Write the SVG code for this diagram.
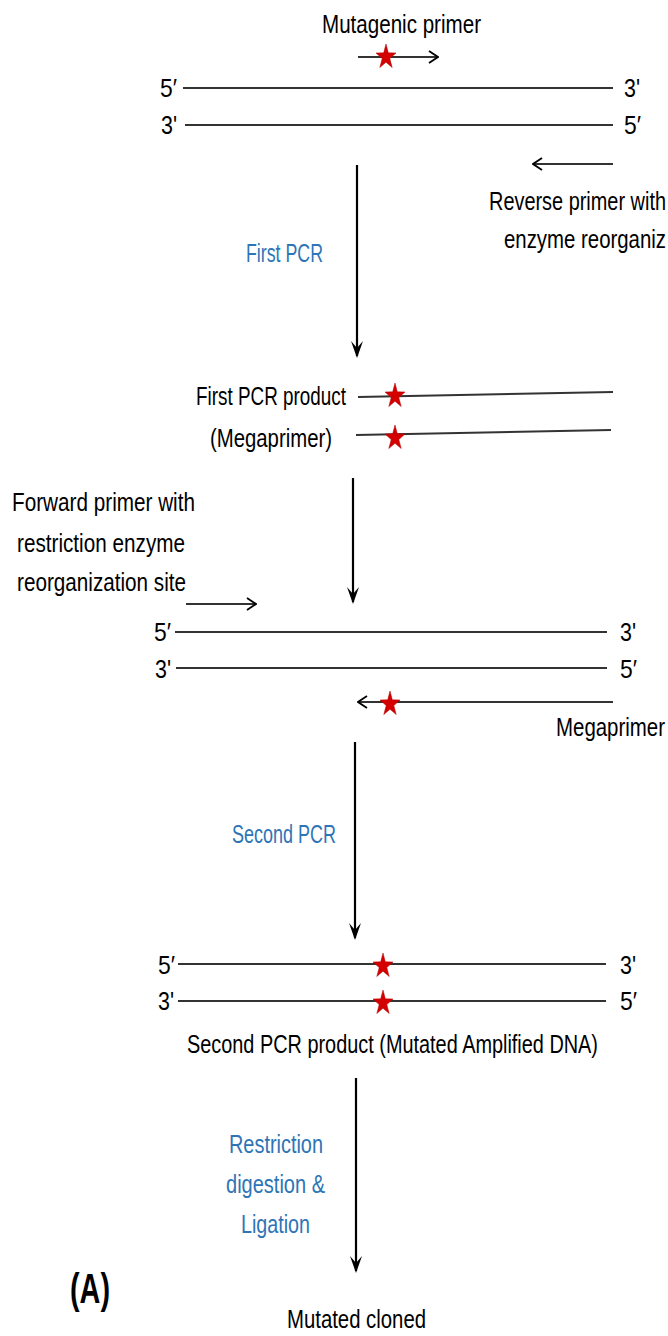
<svg xmlns="http://www.w3.org/2000/svg" width="668" height="1336" viewBox="0 0 668 1336">
<style>
.t{font-family:"Liberation Sans",Arial,sans-serif;font-size:26px;fill:#000;}
.b{fill:#2E75B6;}
.s{stroke:#333;stroke-width:2;fill:none;}
.v{stroke:#000;stroke-width:2.2;fill:none;}
.star{fill:#D40000;stroke:#B00000;stroke-width:0.5;}
</style>
<defs>
<marker id="open" viewBox="0 0 12 14" refX="11" refY="7" markerWidth="12" markerHeight="14" markerUnits="userSpaceOnUse" orient="auto">
<polyline points="2,1 11,7 2,13" fill="none" stroke="#000" stroke-width="1.8"/>
</marker>
<path id="star" d="M0,-13 L2.3,-4.2 L10,-4 L3.8,1.6 L6.2,10.5 L0,5.2 L-6.2,10.5 L-3.8,1.6 L-10,-4 L-2.3,-4.2 Z"/>
</defs>

<g id="connectors">
<line class="v" x1="357" y1="165" x2="357" y2="356"/>
<polygon points="351,341 357,358 363,341 357,348" fill="#000"/>
<line class="v" x1="353" y1="478" x2="353" y2="602"/>
<polygon points="347,587 353,604 359,587 353,594" fill="#000"/>
<line class="v" x1="355" y1="742" x2="355" y2="938"/>
<polygon points="349,923 355,940 361,923 355,930" fill="#000"/>
<line class="v" x1="356" y1="1078" x2="356" y2="1271"/>
<polygon points="350,1256 356,1273 362,1256 356,1263" fill="#000"/>
</g>

<g id="template-dna">
<text class="t" x="322" y="33" textLength="159" lengthAdjust="spacingAndGlyphs">Mutagenic primer</text>
<line class="s" x1="358" y1="57" x2="438" y2="57" marker-end="url(#open)"/>
<use href="#star" class="star" x="386" y="57"/>
<text class="t" x="160" y="97" textLength="17" lengthAdjust="spacingAndGlyphs">5′</text>
<line class="s" x1="183" y1="88" x2="613" y2="88"/>
<text class="t" x="624" y="97" textLength="16" lengthAdjust="spacingAndGlyphs">3'</text>
<text class="t" x="161" y="134" textLength="16" lengthAdjust="spacingAndGlyphs">3'</text>
<line class="s" x1="185" y1="125" x2="613" y2="125"/>
<text class="t" x="624" y="134" textLength="17" lengthAdjust="spacingAndGlyphs">5′</text>
</g>

<g id="reverse-primer">
<line class="s" x1="613" y1="164" x2="533" y2="164" marker-end="url(#open)"/>
<text class="t" x="489" y="210" textLength="177" lengthAdjust="spacingAndGlyphs">Reverse primer with</text>
<text class="t" x="504" y="248" textLength="162" lengthAdjust="spacingAndGlyphs">enzyme  reorganiz</text>
</g>

<g id="first-pcr">
<text class="t b" x="246" y="262" textLength="77" lengthAdjust="spacingAndGlyphs">First PCR</text>
</g>

<g id="megaprimer-product">
<text class="t" x="196" y="405" textLength="150" lengthAdjust="spacingAndGlyphs">First PCR product</text>
<line class="s" x1="358" y1="397" x2="613" y2="392"/>
<use href="#star" class="star" x="395" y="396"/>
<text class="t" x="210" y="447" textLength="122" lengthAdjust="spacingAndGlyphs">(Megaprimer)</text>
<line class="s" x1="356" y1="435" x2="611" y2="430"/>
<use href="#star" class="star" x="395" y="438"/>
</g>

<g id="forward-primer">
<text class="t" x="12" y="511" textLength="183" lengthAdjust="spacingAndGlyphs">Forward primer with</text>
<text class="t" x="17" y="552" textLength="168" lengthAdjust="spacingAndGlyphs">restriction enzyme</text>
<text class="t" x="17" y="591" textLength="169" lengthAdjust="spacingAndGlyphs">reorganization site</text>
<line class="s" x1="186" y1="604" x2="256" y2="604" marker-end="url(#open)"/>
</g>

<g id="second-template">
<text class="t" x="154" y="641" textLength="17" lengthAdjust="spacingAndGlyphs">5′</text>
<line class="s" x1="175" y1="632" x2="607" y2="632"/>
<text class="t" x="620" y="641" textLength="16" lengthAdjust="spacingAndGlyphs">3'</text>
<text class="t" x="155" y="678" textLength="16" lengthAdjust="spacingAndGlyphs">3'</text>
<line class="s" x1="176" y1="668" x2="607" y2="668"/>
<text class="t" x="620" y="678" textLength="17" lengthAdjust="spacingAndGlyphs">5′</text>
</g>

<g id="megaprimer">
<line class="s" x1="613" y1="702" x2="358" y2="702" marker-end="url(#open)"/>
<use href="#star" class="star" x="390" y="704"/>
<text class="t" x="556" y="736" textLength="109" lengthAdjust="spacingAndGlyphs">Megaprimer</text>
</g>

<g id="second-pcr">
<text class="t b" x="232" y="843" textLength="104" lengthAdjust="spacingAndGlyphs">Second PCR</text>
</g>

<g id="second-product">
<text class="t" x="158" y="974" textLength="17" lengthAdjust="spacingAndGlyphs">5′</text>
<line class="s" x1="178" y1="964" x2="606" y2="964"/>
<use href="#star" class="star" x="383" y="966"/>
<text class="t" x="620" y="974" textLength="16" lengthAdjust="spacingAndGlyphs">3'</text>
<text class="t" x="158" y="1010" textLength="16" lengthAdjust="spacingAndGlyphs">3'</text>
<line class="s" x1="178" y1="1001" x2="606" y2="1001"/>
<use href="#star" class="star" x="383" y="1003"/>
<text class="t" x="620" y="1010" textLength="17" lengthAdjust="spacingAndGlyphs">5′</text>
<text class="t" x="187" y="1053" textLength="411" lengthAdjust="spacingAndGlyphs">Second PCR product (Mutated Amplified DNA)</text>
</g>

<g id="digestion">
<text class="t b" x="229" y="1153" textLength="94" lengthAdjust="spacingAndGlyphs">Restriction</text>
<text class="t b" x="226" y="1193" textLength="99" lengthAdjust="spacingAndGlyphs">digestion &amp;</text>
<text class="t b" x="241" y="1233" textLength="69" lengthAdjust="spacingAndGlyphs">Ligation</text>
</g>

<g id="label-a">
<text class="t" x="70" y="1303" textLength="40" lengthAdjust="spacingAndGlyphs" style="font-size:42px;font-weight:bold">(A)</text>
</g>

<g id="mutated-cloned">
<text class="t" x="287" y="1328" textLength="139" lengthAdjust="spacingAndGlyphs">Mutated cloned</text>
</g>
</svg>
